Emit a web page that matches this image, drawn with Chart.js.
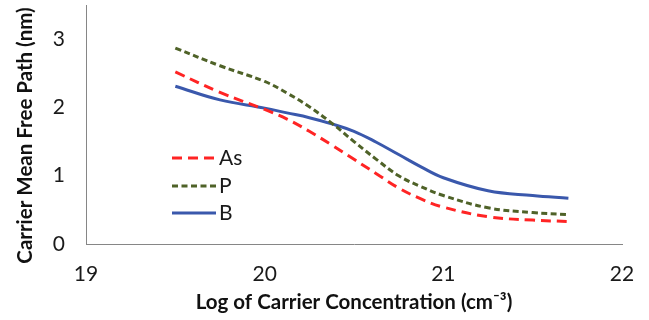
<!DOCTYPE html>
<html>
<head>
<meta charset="utf-8">
<script src="https://cdn.jsdelivr.net/npm/chart.js@4"></script>
<style>
  html, body { margin: 0; padding: 0; background: #fff; }
  #wrap { width: 649px; height: 320px; }
</style>
</head>
<body>
<div id="wrap"><canvas id="c" width="649" height="320"></canvas></div>
<script>
// Data
const logConc = [19.5, 19.75, 20, 20.125, 20.25, 20.375, 20.5, 20.625, 20.75, 20.875, 21, 21.25, 21.5, 21.7];
const mfpAs   = [2.52, 2.22, 1.97, 1.83, 1.65, 1.45, 1.24, 1.03, 0.82, 0.66, 0.54, 0.40, 0.35, 0.33];
const mfpP    = [2.87, 2.61, 2.38, 2.21, 2.01, 1.77, 1.50, 1.24, 1.00, 0.84, 0.71, 0.53, 0.46, 0.43];
const mfpB    = [2.31, 2.11, 1.99, 1.92, 1.85, 1.76, 1.65, 1.49, 1.31, 1.13, 0.97, 0.78, 0.71, 0.67];
const seriesNames = ['As', 'P', 'B'];
const xTicks = [19, 20, 21, 22];
const yTicks = [0, 1, 2, 3];
const xTitle = 'Log of Carrier Concentration (cm⁻³)';
const yTitle = 'Carrier Mean Free Path (nm)';

const FONT = 'Lato';
const toPts = ys => logConc.map((x, i) => ({ x: x, y: ys[i] }));

const insideLegend = {
  id: 'insideLegend',
  afterDatasetsDraw(chart) {
    const ctx = chart.ctx;
    const a = chart.chartArea;
    const x0 = a.left + 86, x1 = a.left + 130, tx = a.left + 133;
    const ys = [a.top + 153, a.top + 181, a.top + 208];
    chart.data.datasets.forEach((ds, i) => {
      ctx.save();
      ctx.strokeStyle = ds.borderColor;
      ctx.lineWidth = ds.borderWidth;
      ctx.setLineDash(ds.borderDash || []);
      ctx.lineCap = 'butt';
      ctx.beginPath();
      ctx.moveTo(x0, ys[i]);
      ctx.lineTo(x1, ys[i]);
      ctx.stroke();
      ctx.setLineDash([]);
      ctx.fillStyle = '#1a1a1a';
      ctx.font = '21px ' + FONT;
      ctx.textBaseline = 'middle';
      ctx.textAlign = 'left';
      ctx.fillText(ds.label, tx, ys[i]);
      ctx.restore();
    });
  }
};

// Y axis title, placed slightly below the plot centre as in the reference
const yAxisTitle = {
  id: 'yAxisTitle',
  afterDraw(chart) {
    const ctx = chart.ctx;
    const a = chart.chartArea;
    ctx.save();
    ctx.translate(25, (a.top + a.bottom) / 2 + 11);
    ctx.rotate(-Math.PI / 2);
    ctx.font = 'bold 20.5px ' + FONT;
    ctx.fillStyle = '#111';
    ctx.textAlign = 'center';
    ctx.textBaseline = 'middle';
    ctx.fillText(yTitle, 0, 0);
    ctx.restore();
  }
};

new Chart(document.getElementById('c'), {
  type: 'line',
  data: {
    datasets: [
      { label: seriesNames[0], data: toPts(mfpAs), borderColor: '#FF2424', borderWidth: 3, borderDash: [10, 6], pointRadius: 0, tension: 0.4, fill: false },
      { label: seriesNames[1], data: toPts(mfpP),  borderColor: '#4F6228', borderWidth: 3, borderDash: [6, 3.5], pointRadius: 0, tension: 0.4, fill: false },
      { label: seriesNames[2], data: toPts(mfpB),  borderColor: '#3A58AC', borderWidth: 3, pointRadius: 0, tension: 0.4, fill: false }
    ]
  },
  options: {
    responsive: false,
    animation: false,
    devicePixelRatio: 1,
    layout: { padding: { top: 5, right: 27, left: 0, bottom: 0 } },
    plugins: { legend: { display: false }, tooltip: { enabled: false } },
    scales: {
      x: {
        type: 'linear',
        min: xTicks[0], max: xTicks[xTicks.length - 1],
        afterBuildTicks: s => { s.ticks = xTicks.map(v => ({ value: v })); },
        afterFit: s => { s.height = 76; s.paddingLeft = 0; s.paddingRight = 0; },
        grid: { display: false, drawTicks: false },
        border: { display: true, color: '#868686', width: 1 },
        ticks: { color: '#1a1a1a', font: { family: FONT, size: 21 }, padding: 18, maxRotation: 0 },
        title: { display: true, text: xTitle, color: '#111', font: { family: FONT, size: 20.5, weight: 'bold' }, padding: { top: 0, bottom: 5 } }
      },
      y: {
        min: 0, max: 3.5,
        afterBuildTicks: s => { s.ticks = yTicks.map(v => ({ value: v })); },
        afterFit: s => { s.width = 86; s.paddingTop = 0; s.paddingBottom = 0; },
        grid: { display: false, drawTicks: false },
        border: { display: true, color: '#868686', width: 1 },
        ticks: { color: '#1a1a1a', font: { family: FONT, size: 21 }, padding: 21 },
        title: { display: false }
      }
    }
  },
  plugins: [insideLegend, yAxisTitle]
});
</script>
</body>
</html>
